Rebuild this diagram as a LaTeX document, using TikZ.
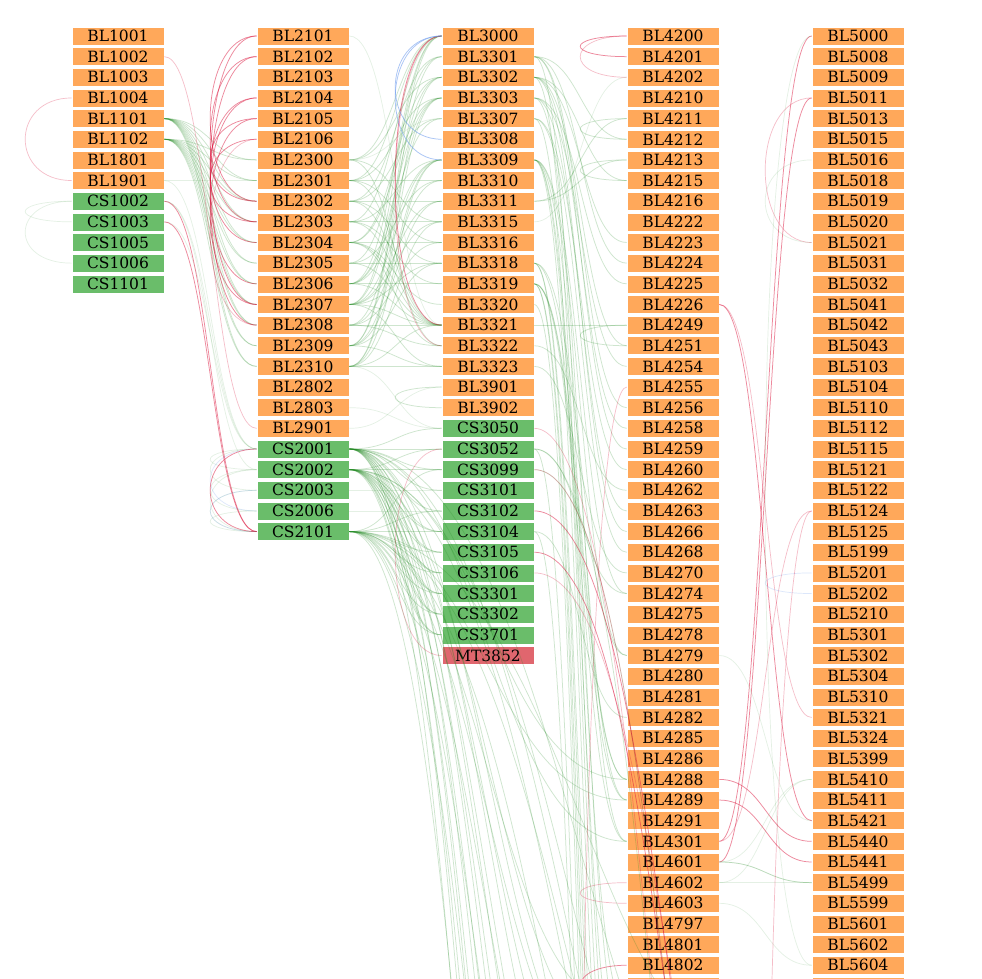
\documentclass[tikz,border=0pt]{standalone}
\usepackage{fontspec}
\setmainfont{DejaVu Serif}
\usetikzlibrary{calc}
\definecolor{cOr}{RGB}{255,168,90}
\definecolor{cGr}{RGB}{106,189,106}
\definecolor{cMt}{RGB}{224,102,110}
\definecolor{eG}{RGB}{34,139,34}
\definecolor{eR}{RGB}{220,20,60}
\definecolor{eB}{RGB}{100,149,237}
\newcommand\edF[3]{\draw[#3] let \p1=(#1.east), \p2=(#2.west) in (\p1) .. controls ({(\x1+\x2)/2},\y1) and ({(\x1+\x2)/2},\y2) .. (\p2);}
\newcommand\edO[3]{\draw[#3] let \p1=(#1.east), \p2=(#2) in (\p1) .. controls ({(\x1+\x2)/2},\y1) and ({(\x1+\x2)/2},\y2) .. (\p2);}
\newcommand\edL[3]{\draw[#3] (#1.west) .. controls +(-62,0) and +(-62,0) .. (#2.west);}
\newcommand\edLO[3]{\draw[#3] (#1.west) .. controls +(-62,0) and +(-62,0) .. (#2);}
\begin{document}
\begin{tikzpicture}[x=1pt,y=-1pt,
  box/.style={rectangle, minimum width=92pt, minimum height=18pt, inner sep=0pt, draw=white, line width=0.6pt, text=black, font=\fontsize{15.5}{16}\selectfont},
  obox/.style={box, fill=cOr},
  gbox/.style={box, fill=cGr},
  mbox/.style={box, fill=cMt},
  gA/.style={draw=eG, draw opacity=0.22, line width=0.75pt},
  gB/.style={draw=eG, draw opacity=0.12, line width=0.7pt},
  rA/.style={draw=eR, draw opacity=0.5, line width=0.75pt},
  rB/.style={draw=eR, draw opacity=0.28, line width=0.7pt},
  bA/.style={draw=eB, draw opacity=0.55, line width=0.75pt},
  bB/.style={draw=eB, draw opacity=0.22, line width=0.7pt}]
\useasboundingbox (0,0) rectangle (982,979);
\fill[white] (0,0) rectangle (982,979);
\clip (0,0) rectangle (982,979);
% ---------- nodes ----------
\foreach \n [count=\i from 0] in {BL1001,BL1002,BL1003,BL1004,BL1101,BL1102,BL1801,BL1901}
  \node[obox] (\n) at (118,{36+20.65*\i}) {\n};
\foreach \n [count=\i from 8] in {CS1002,CS1003,CS1005,CS1006,CS1101}
  \node[gbox] (\n) at (118,{36+20.65*\i}) {\n};
\foreach \n [count=\i from 0] in {BL2101,BL2102,BL2103,BL2104,BL2105,BL2106,BL2300,BL2301,BL2302,BL2303,BL2304,BL2305,BL2306,BL2307,BL2308,BL2309,BL2310,BL2802,BL2803,BL2901}
  \node[obox] (\n) at (303,{36+20.65*\i}) {\n};
\foreach \n [count=\i from 20] in {CS2001,CS2002,CS2003,CS2006,CS2101}
  \node[gbox] (\n) at (303,{36+20.65*\i}) {\n};
\foreach \n [count=\i from 0] in {BL3000,BL3301,BL3302,BL3303,BL3307,BL3308,BL3309,BL3310,BL3311,BL3315,BL3316,BL3318,BL3319,BL3320,BL3321,BL3322,BL3323,BL3901,BL3902}
  \node[obox] (\n) at (488,{36+20.65*\i}) {\n};
\foreach \n [count=\i from 19] in {CS3050,CS3052,CS3099,CS3101,CS3102,CS3104,CS3105,CS3106,CS3301,CS3302,CS3701}
  \node[gbox] (\n) at (488,{36+20.65*\i}) {\n};
\node[mbox] (MT3852) at (488,{36+20.65*30}) {MT3852};
\foreach \n [count=\i from 0] in {BL4200,BL4201,BL4202,BL4210,BL4211,BL4212,BL4213,BL4215,BL4216,BL4222,BL4223,BL4224,BL4225,BL4226,BL4249,BL4251,BL4254,BL4255,BL4256,BL4258,BL4259,BL4260,BL4262,BL4263,BL4266,BL4268,BL4270,BL4274,BL4275,BL4278,BL4279,BL4280,BL4281,BL4282,BL4285,BL4286,BL4288,BL4289,BL4291,BL4301,BL4601,BL4602,BL4603,BL4797,BL4801,BL4802}
  \node[obox] (\n) at (673,{36+20.65*\i}) {\n};
\foreach \n [count=\i from 0] in {BL5000,BL5008,BL5009,BL5011,BL5013,BL5015,BL5016,BL5018,BL5019,BL5020,BL5021,BL5031,BL5032,BL5041,BL5042,BL5043,BL5103,BL5104,BL5110,BL5112,BL5115,BL5121,BL5122,BL5124,BL5125,BL5199,BL5201,BL5202,BL5210,BL5301,BL5302,BL5304,BL5310,BL5321,BL5324,BL5399,BL5410,BL5411,BL5421,BL5440,BL5441,BL5499,BL5599,BL5601,BL5602,BL5604}
  \node[obox] (\n) at (858,{36+20.65*\i}) {\n};
\node[obox] (s4) at (673,{36+20.65*46}) {};
\node[obox] (s5) at (858,{36+20.65*46}) {};
% off-screen ends
\foreach \k/\yy in {1/1010,2/1050,3/1100,4/1160,5/1220,6/1300,7/1380,8/1460,9/1550,10/1650,11/1760,12/1880,13/2000,14/2150,15/2300,16/2500,17/1006}
  \coordinate (o\k) at (627,\yy);
\foreach \k/\yy in {1/1100,2/1250,3/1400,4/1480,5/1520,6/1620,7/1800,8/2000,9/2600}
  \coordinate (p\k) at (811,\yy);
\coordinate (o18) at (627,2400);
% ---------- column 1 ----------
\foreach \s in {BL1101,BL1102}
  \foreach \t in {BL2300,BL2301,BL2302,BL2303,BL2304,BL2305,BL2306,BL2307,BL2308,BL2309,BL2310}
    \edF{\s}{\t}{gA};
\foreach \a/\b in {BL1901/BL2301,BL1901/CS2001,CS1002/CS2002,CS1003/CS2001,CS1002/CS2001}
  \edF{\a}{\b}{gB};
\edF{CS1002}{CS2101}{rA}
\edF{CS1003}{CS2101}{rA}
\edF{BL1002}{BL2901}{rB}
\edL{BL1004}{BL1901}{rB}
\edL{CS1002}{CS1003}{gB}
\edL{CS1002}{CS1006}{gB}
% ---------- column 2 ----------
\foreach \a/\b in {BL2101/BL2307,BL2101/BL2302,BL2102/BL2303,BL2102/BL2308,BL2104/BL2304,BL2104/BL2306,BL2105/BL2302,BL2105/BL2307,BL2106/BL2303}
  \edL{\a}{\b}{rA};
\edL{BL2106}{BL2308}{rB}
\foreach \a/\b in {CS2001/CS2002,CS2001/CS2003,CS2002/CS2006,CS2003/CS2101,CS2006/CS2101,CS2002/CS2101}
  \edL{\a}{\b}{gB};
\edL{CS2001}{CS2006}{bB}
\edL{CS2003}{CS2101}{bB}
\edL{CS2001}{CS2101}{rA}
\foreach \a/\b in {BL2300/BL3000,BL2300/BL3302,BL2300/BL3315,BL2300/BL3322,
  BL2301/BL3000,BL2301/BL3303,BL2301/BL3310,BL2301/BL3316,BL2301/BL3321,
  BL2302/BL3301,BL2302/BL3307,BL2302/BL3311,BL2302/BL3318,BL2302/BL3321,
  BL2303/BL3000,BL2303/BL3309,BL2303/BL3315,BL2303/BL3319,BL2303/BL3321,
  BL2304/BL3302,BL2304/BL3303,BL2304/BL3316,BL2304/BL3320,BL2304/BL3321,BL2304/BL3322,
  BL2305/BL3301,BL2305/BL3310,BL2305/BL3318,BL2305/BL3321,
  BL2306/BL3000,BL2306/BL3303,BL2306/BL3307,BL2306/BL3309,BL2306/BL3319,BL2306/BL3321,
  BL2307/BL3000,BL2307/BL3302,BL2307/BL3309,BL2307/BL3311,BL2307/BL3315,BL2307/BL3318,BL2307/BL3321,BL2307/BL3323,
  BL2308/BL3303,BL2308/BL3310,BL2308/BL3316,BL2308/BL3321,BL2308/BL3322,
  BL2309/BL3000,BL2309/BL3301,BL2309/BL3309,BL2309/BL3311,BL2309/BL3318,BL2309/BL3323,
  BL2310/BL3302,BL2310/BL3303,BL2310/BL3309,BL2310/BL3315,BL2310/BL3321,BL2310/BL3323}
  \edF{\a}{\b}{gA};
\foreach \a/\b in {BL2101/BL3321,BL2901/BL3901,BL2310/CS3050,BL2803/CS3050,BL2300/BL3307,CS2003/CS3101,CS2006/CS3102}
  \edF{\a}{\b}{gB};
\foreach \a/\b in {CS2001/CS3050,CS2001/CS3052,CS2001/CS3099,CS2001/CS3101,CS2001/CS3102,CS2001/CS3104,CS2001/CS3105,CS2001/CS3106,CS2001/CS3301,CS2001/CS3302,CS2001/CS3701,CS2001/BL4301,
  CS2002/CS3052,CS2002/CS3099,CS2002/CS3104,CS2002/CS3105,CS2002/CS3106,CS2002/CS3301,CS2002/CS3302,CS2002/CS3701,CS2002/BL4288,
  CS2101/CS3099,CS2101/CS3102,CS2101/CS3104,CS2101/CS3105,CS2101/CS3106,CS2101/CS3301,CS2101/CS3302,CS2101/CS3701,CS2101/BL4289}
  \edF{\a}{\b}{gA};
\foreach \a/\b in {CS2001/o3,CS2001/o5,CS2001/o7,CS2001/o9,CS2001/o11,CS2001/o13,CS2001/o15,CS2001/p2,CS2001/p5,
  CS2002/o2,CS2002/o4,CS2002/o6,CS2002/o8,CS2002/o10,CS2002/o12,CS2002/o14,CS2002/o16,CS2002/p3,CS2002/p6,
  CS2101/o1,CS2101/o3,CS2101/o6,CS2101/o9,CS2101/o12,CS2101/o15,CS2101/p1,CS2101/p4,CS2101/p7}
  \edO{\a}{\b}{gA};
% ---------- column 3 ----------
\edL{BL3000}{BL3321}{rA}
\edL{BL3000}{BL3322}{rB}
\edL{BL3000}{BL3308}{bA}
\edL{BL3000}{BL3309}{bA}
\edL{BL3901}{BL3902}{gA}
\edL{CS3052}{MT3852}{rB}
\foreach \a/\b in {BL3301/BL4212,BL3301/BL4224,BL3301/BL4256,BL3301/BL4259,
  BL3302/BL4215,BL3302/BL4223,BL3302/BL4251,BL3302/BL4258,BL3302/BL4266,
  BL3303/BL4225,BL3303/BL4254,BL3303/BL4263,BL3303/BL4301,
  BL3307/BL4260,BL3307/BL4268,BL3309/BL4274,BL3309/BL4279,BL3309/BL4289,
  BL3311/BL4211,BL3311/BL4213,BL3318/BL4279,BL3318/BL4288,BL3319/BL4288,BL3319/BL4289,BL3319/BL4301,
  BL3322/BL4262,BL3323/BL4270,CS3052/BL4274,CS3104/BL4282,BL3321/BL4249}
  \edF{\a}{\b}{gA};
\edF{BL3315}{BL4202}{gB}
\foreach \a/\b in {BL3302/o4,BL3301/o2,BL3307/o5,BL3309/o1,BL3309/o3,BL3309/o6,BL3318/o7,BL3318/o8,BL3319/o9,BL3319/o10,BL3320/o11,CS3052/o12,CS3104/o13,CS3099/p6,CS3052/p8}
  \edO{\a}{\b}{gA};
\edO{CS3099}{p6}{rB}
\edO{CS3102}{p4}{rA}
\edO{CS3105}{p5}{rA}
\edO{CS3106}{p3}{rB}
\edO{CS3050}{p8}{rB}
% ---------- column 4 ----------
\edL{BL4200}{BL4201}{rA}
\edL{BL4200}{BL4202}{rB}
\edL{BL4211}{BL4212}{gA}
\edL{BL4213}{BL4215}{gA}
\edL{BL4249}{BL4251}{gA}
\edL{BL4602}{BL4603}{rB}
\edLO{BL4802}{o17}{rA}
\edLO{BL4255}{o18}{rB}
\edF{BL4226}{BL5421}{rA}
\edF{BL4226}{BL5321}{rB}
\edF{BL4288}{BL5440}{rA}
\edF{BL4289}{BL5441}{rA}
\edF{BL4301}{BL5000}{rA}
\edF{BL4301}{BL5124}{rB}
\edF{BL4601}{BL5011}{rA}
\foreach \a/\b in {BL4601/BL5499,BL4602/BL5499,BL4601/BL5410,BL4602/BL5410,BL4603/BL5604,BL4279/BL5421}
  \edF{\a}{\b}{gB};
\edF{BL4601}{BL5499}{gA}
% ---------- column 5 ----------
\edL{BL5011}{BL5021}{rB}
\edL{BL5016}{BL5021}{gB}
\edL{BL5000}{BL5604}{gB}
\edL{BL5201}{BL5202}{bB}
\edLO{BL5124}{p9}{rB}
\end{tikzpicture}
\end{document}
